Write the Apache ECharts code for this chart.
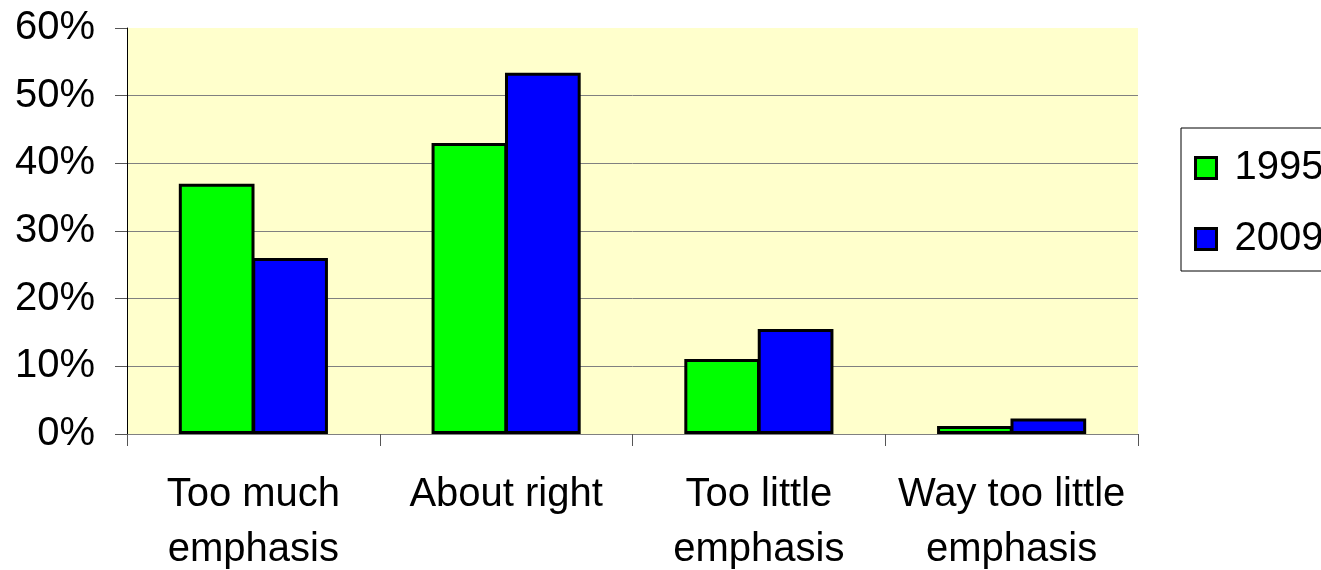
<!DOCTYPE html>
<html>
<head>
<meta charset="utf-8">
<script src="https://cdn.jsdelivr.net/npm/echarts@6/dist/echarts.min.js"></script>
<style>
  html, body { margin: 0; padding: 0; background: #fff; }
  #chart { width: 1321px; height: 570px; }
</style>
</head>
<body>
<div id="chart"></div>
<script>
// data (fractions, shown as %)
const categories = ['Too much\nemphasis', 'About right', 'Too little\nemphasis', 'Way too little\nemphasis'];
const series1995 = [0.37, 0.43, 0.111, 0.012];
const series2009 = [0.26, 0.534, 0.155, 0.023];
const yTicks = [0, 0.1, 0.2, 0.3, 0.4, 0.5, 0.6];

const chart = echarts.init(document.getElementById('chart'));

const font = 'Liberation Sans, Arial, sans-serif';

// grid lines gray, top one (60%) hidden like the original
const splitColors = yTicks.map((v, i) => i === yTicks.length - 1 ? 'rgba(0,0,0,0)' : '#808080');

const option = {
  backgroundColor: '#ffffff',
  animation: false,
  grid: {
    left: 127,
    top: 28,
    right: 183,
    bottom: 136,
    show: true,
    backgroundColor: '#FFFFCC',
    borderWidth: 0,
    containLabel: false,
    outerBoundsMode: 'none'
  },
  legend: {
    orient: 'vertical',
    left: 1181,
    top: 128,
    padding: [20, 40, 12, 13],
    itemGap: 31,
    itemWidth: 21,
    itemHeight: 21,
    icon: 'rect',
    itemStyle: { borderColor: '#000', borderWidth: 3 },
    borderColor: '#000',
    borderWidth: 1,
    textStyle: { fontFamily: font, fontSize: 40, color: '#000', padding: [0, 0, 0, 13] },
    data: ['1995', '2009']
  },
  xAxis: {
    type: 'category',
    data: categories,
    axisLine: { lineStyle: { color: '#808080', width: 1 } },
    axisTick: { show: true, length: 12, lineStyle: { color: '#555' } },
    axisLabel: {
      margin: 33,
      fontFamily: font,
      fontSize: 40,
      color: '#000',
      lineHeight: 55,
      interval: 0
    }
  },
  yAxis: {
    type: 'value',
    min: 0,
    max: 0.6,
    interval: 0.1,
    axisLine: { show: true, lineStyle: { color: '#000', width: 1 } },
    axisTick: { show: true, length: 12, lineStyle: { color: '#555' } },
    splitLine: { lineStyle: { color: splitColors, width: 1 } },
    axisLabel: {
      margin: 32,
      fontFamily: font,
      fontSize: 40,
      color: '#000',
      formatter: v => Math.round(v * 100) + '%'
    }
  },
  series: [
    {
      name: '1995',
      type: 'bar',
      data: series1995,
      barGap: '-3%',
      barCategoryGap: '41%',
      itemStyle: { color: '#00FF00', borderColor: '#000', borderWidth: 3 }
    },
    {
      name: '2009',
      type: 'bar',
      data: series2009,
      itemStyle: { color: '#0000FF', borderColor: '#000', borderWidth: 3 }
    }
  ]
};

chart.setOption(option);
window.addEventListener('resize', () => chart.resize());
</script>
</body>
</html>
